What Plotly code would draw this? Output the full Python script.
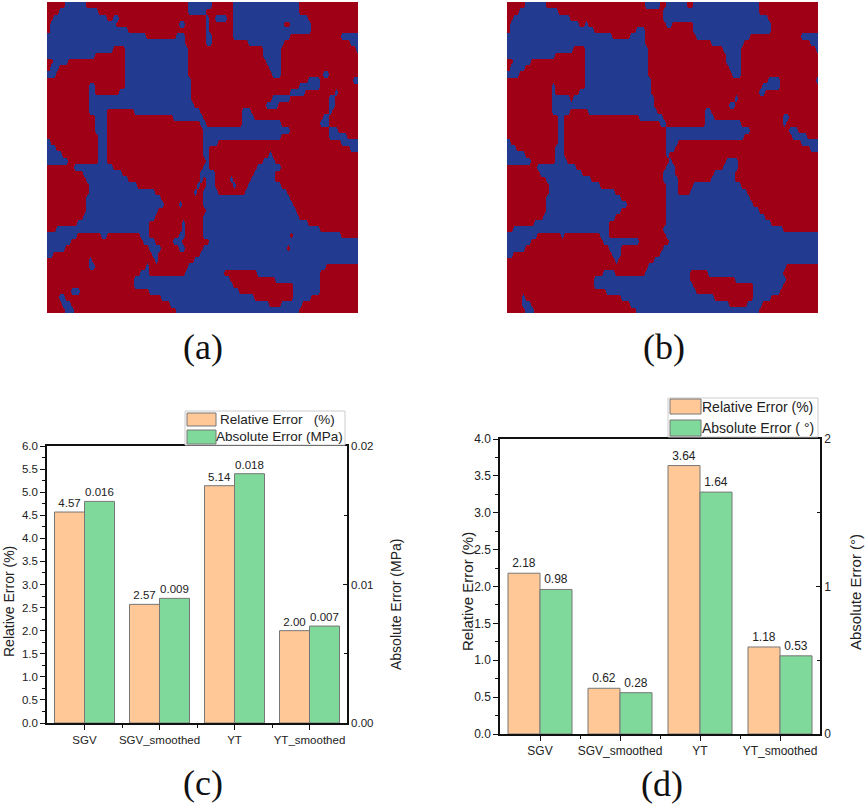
import plotly.graph_objects as go

W, H = 865, 805

# ---- data ----
categories = ["SGV", "SGV_smoothed", "YT", "YT_smoothed"]
rel_c = [4.57, 2.57, 5.14, 2.00]
abs_c = [0.016, 0.009, 0.018, 0.007]
rel_d = [2.18, 0.62, 3.64, 1.18]
abs_d = [0.98, 0.28, 1.64, 0.53]

# blue runs per image row (50 rows, top to bottom), position along the row
rows_a = [
 [(72,138),(440,515),(575,780)],
 [(55,170),(440,500),(575,780)],
 [(40,200),(220,240),(495,505),(520,560),(575,800)],
 [(30,225),(415,430),(495,505),(575,730),(750,810)],
 [(25,265),(495,510),(575,810)],
 [(20,315),(410,435),(500,515),(575,745),(900,955)],
 [(20,435),(500,515),(620,730),(925,955)],
 [(20,215),(250,440),(670,720),(945,955)],
 [(20,165),(250,440),(665,720)],
 [(40,85),(250,440),(680,720)],
 [(30,60),(250,445),(685,720)],
 [(20,50),(255,445),(695,720),(845,865)],
 [(145,150),(255,450),(800,835),(940,955)],
 [(145,160),(250,450),(780,835)],
 [(145,165),(235,450),(750,790),(880,890)],
 [(150,455),(695,745),(870,880)],
 [(150,460),(680,710),(870,880)],
 [(150,200),(280,475),(605,635),(865,875)],
 [(165,197),(400,490),(605,640),(850,870)],
 [(165,197),(475,500),(605,720),(840,865)],
 [(165,197),(490,750),(870,890)],
 [(170,197),(490,725),(870,920)],
 [(20,30),(170,197),(490,530),(905,955)],
 [(20,45),(170,197),(490,510),(930,955)],
 [(20,65),(170,197),(490,505),(685,695)],
 [(20,80),(170,200),(495,510),(670,705)],
 [(105,220),(490,510),(650,720)],
 [(130,245),(480,520),(640,700)],
 [(140,265),(475,490),(500,520),(570,580),(630,700)],
 [(150,290),(470,480),(495,520),(575,585),(620,720)],
 [(145,340),(460,470),(490,530),(610,740)],
 [(140,365),(490,750)],
 [(135,375),(415,425),(490,760)],
 [(135,355),(430,438),(495,770)],
 [(130,340),(430,438),(490,780)],
 [(110,330),(428,435),(490,800)],
 [(50,330),(425,432),(490,840)],
 [(20,110),(180,200),(295,330),(420,430),(490,750),(755,900)],
 [(20,90),(310,345),(400,425),(505,955)],
 [(20,70),(325,360),(415,430),(490,740),(750,955)],
 [(20,35),(335,355),(475,955)],
 [(145,155),(340,350),(460,955)],
 [(150,160),(320,330),(445,860)],
 [(170,175),(300,330),(435,555),(650,835)],
 [(285,565),(700,835)],
 [(285,575),(755,835)],
 [(90,115),(330,600),(755,835)],
 [(55,70),(360,640),(760,815)],
 [(65,90),(385,690),(725,785)],
 [(75,105),(405,780)],
]
rows_b = [
 [(72,135),(430,480),(495,560),(580,780)],
 [(55,170),(490,780)],
 [(40,205),(490,800)],
 [(30,240),(250,265),(500,515),(575,810)],
 [(25,285),(410,430),(580,810)],
 [(20,335),(385,435),(590,745),(900,958)],
 [(20,435),(630,730),(925,958)],
 [(20,215),(250,440),(670,720),(945,958)],
 [(20,160),(255,445),(680,720)],
 [(40,90),(255,445),(675,720)],
 [(30,70),(255,445),(685,720)],
 [(20,55),(255,445),(695,720)],
 [(255,450),(800,840),(945,958)],
 [(155,160),(250,450),(785,835)],
 [(155,165),(240,450),(780,790)],
 [(155,205),(215,460),(700,715)],
 [(155,465),(690,700)],
 [(155,205),(265,470),(610,635)],
 [(175,195),(420,490),(610,640),(850,865)],
 [(170,195),(475,500),(610,720),(850,860)],
 [(170,195),(495,745),(870,895)],
 [(170,195),(500,730),(875,920)],
 [(20,30),(170,195),(495,535),(905,958)],
 [(20,50),(165,195),(500,520),(930,958)],
 [(20,70),(165,195),(500,505)],
 [(20,95),(160,200),(505,515),(680,710)],
 [(110,225),(495,520),(665,715)],
 [(120,245),(490,525),(645,705)],
 [(140,270),(485,530),(630,705)],
 [(150,300),(500,530),(580,720)],
 [(145,340),(495,535),(565,740)],
 [(140,365),(495,750)],
 [(140,380),(495,760)],
 [(135,360),(500,775)],
 [(130,340),(495,790)],
 [(105,325),(495,810)],
 [(40,325),(490,850)],
 [(20,110),(185,195),(300,330),(415,420),(500,958)],
 [(20,95),(310,420),(505,958)],
 [(20,75),(325,365),(490,958)],
 [(20,40),(335,360),(475,958)],
 [(345,355),(460,958)],
 [(445,860)],
 [(310,340),(435,570),(620,845)],
 [(285,570),(700,855)],
 [(285,575),(755,850)],
 [(320,590),(760,835)],
 [(65,75),(360,640),(760,810)],
 [(65,90),(385,690),(740,785)],
 [(75,105),(405,780)],
]

RED, BLUE = "#A00016", "#223A90"
ORANGE, GREEN = "#FFC896", "#7FD99A"
EDGE = "#777777"
FONT = "Liberation Sans"
INK = "#222222"


def xd(a, b):
    return [a / W, b / W]


def yd(top, bottom):
    return [1 - bottom / H, 1 - top / H]


def grid(rows):
    cols = [24.5 + 9 * i for i in range(104)]
    z = [[1 if any(a <= c < b for a, b in r) else 0 for c in cols] for r in rows]
    ys = [5 + 18.66 * (k + 0.5) for k in range(len(rows))]
    return cols, ys, z


fig = go.Figure()

for rows, xa, ya in ((rows_a, "x", "y"), (rows_b, "x2", "y2")):
    cols, ys, z = grid(rows)
    fig.add_trace(go.Heatmap(x=cols, y=ys, z=z, xaxis=xa, yaxis=ya, zmin=0, zmax=1,
                             colorscale=[[0, RED], [0.5, RED], [0.5, BLUE], [1, BLUE]],
                             showscale=False, hoverinfo="skip", zsmooth="best"))


def bars(rel, abs_, xa, ya1, ya2, fmt2, size, name2):
    xs = list(range(len(categories)))
    common = dict(width=0.4, textposition="outside", cliponaxis=False, showlegend=False,
                  textfont=dict(family=FONT, size=size, color=INK), textangle=0)
    fig.add_trace(go.Bar(x=xs, y=rel, offset=-0.4, xaxis=xa, yaxis=ya1, name="Relative Error (%)",
                         marker=dict(color=ORANGE, line=dict(color=EDGE, width=1)),
                         texttemplate="%{y:.2f}", **common))
    fig.add_trace(go.Bar(x=xs, y=abs_, offset=0, xaxis=xa, yaxis=ya2, name=name2,
                         marker=dict(color=GREEN, line=dict(color=EDGE, width=1)),
                         texttemplate="%{y:" + fmt2 + "}", **common))


bars(rel_c, abs_c, "x3", "y3", "y4", ".3f", 11.5, "Absolute Error (MPa)")
bars(rel_d, abs_d, "x4", "y5", "y6", ".2f", 12, "Absolute Error (°)")

hidden = dict(visible=False, showgrid=False, zeroline=False)


def xcat(dom, anchor, size):
    return dict(domain=dom, anchor=anchor, range=[-0.5, 3.5], tickmode="array",
                tickvals=list(range(4)), ticktext=categories, ticks="outside", ticklen=5,
                tickwidth=1, tickcolor="#111", showline=True, linecolor="#111", linewidth=1.5,
                mirror=True, showgrid=False, zeroline=False,
                tickfont=dict(family=FONT, size=size, color=INK),
                minor=dict(tickmode="array", tickvals=[0.5, 1.5, 2.5], ticks="outside", ticklen=3,
                           tickcolor="#111", showgrid=False))


def yleft(dom, anchor, top, size):
    return dict(domain=dom, anchor=anchor, range=[0, top], dtick=0.5, tick0=0, tickformat=".1f",
                ticks="outside", ticklen=5, tickwidth=1, tickcolor="#111", showline=True,
                linecolor="#111", linewidth=1.5, showgrid=False, zeroline=False,
                tickfont=dict(family=FONT, size=size, color=INK),
                minor=dict(dtick=0.25, tick0=0, ticks="outside", ticklen=3, tickcolor="#111", showgrid=False))


def yright(anchor, over, top, dt, mdt, fmt, size):
    d = dict(anchor=anchor, overlaying=over, side="right", range=[0, top], dtick=dt, tick0=0,
             tickformat=fmt, ticks="inside", ticklen=4, tickwidth=1, tickcolor="#111", showline=True,
             linecolor="#111", linewidth=1.5, showgrid=False, zeroline=False,
             tickfont=dict(family=FONT, size=size, color=INK),
             minor=dict(dtick=mdt, tick0=0, ticks="inside", ticklen=3, tickcolor="#111", showgrid=False))
    return d


fig.update_layout(
    width=W, height=H, margin=dict(l=0, r=0, t=0, b=0, pad=0, autoexpand=False), autosize=False,
    paper_bgcolor="white", plot_bgcolor="white", showlegend=False, barmode="overlay",
    xaxis=dict(domain=xd(47, 358), range=[20, 955], anchor="y", **hidden),
    yaxis=dict(domain=yd(2, 313), range=[938, 5], anchor="x", **hidden),
    xaxis2=dict(domain=xd(507, 819), range=[20, 958], anchor="y2", **hidden),
    yaxis2=dict(domain=yd(2, 313), range=[938, 5], anchor="x2", **hidden),
    xaxis3=xcat(xd(47, 347), "y3", 11.5),
    yaxis3=yleft(yd(446, 723), "x3", 6, 11.5),
    yaxis4=yright("x3", "y3", 0.02, 0.01, 0.005, ".2f", 11.5),
    xaxis4=xcat(xd(500, 820), "y5", 12),
    yaxis5=yleft(yd(439, 734), "x4", 4, 12),
    yaxis6=yright("x4", "y5", 2, 1, 0.5, "d", 12),
)
fig.layout.yaxis4.domain = yd(446, 723)
fig.layout.yaxis6.domain = yd(439, 734)


def note(x, y, text, size, family=FONT, angle=0, anchor="center", color=INK):
    fig.add_annotation(x=x / W, y=1 - y / H, xref="paper", yref="paper", text=text, showarrow=False,
                       textangle=angle, xanchor=anchor, yanchor="middle",
                       font=dict(family=family, size=size, color=color))


for x, y, t in ((203, 347, "(a)"), (664, 347, "(b)"), (203, 783, "(c)"), (662, 784, "(d)")):
    note(x, y, t, 36, family="Liberation Serif", color="#111")

note(9, 602, "Relative Error (%)", 14, angle=-90)
note(396, 605, "Absolute Error (MPa)", 14, angle=-90)
note(467, 592, "Relative Error (%)", 15, angle=-90)
note(855, 592, "Absolute Error (°)", 15, angle=-90)


def legend_box(x0, y0, x1, y1, items):
    fig.add_shape(type="rect", xref="paper", yref="paper", x0=x0 / W, x1=x1 / W, y0=1 - y0 / H, y1=1 - y1 / H,
                  line=dict(color="#CCCCCC", width=1), fillcolor="white")
    for sx0, sy0, sx1, sy1, col, tx, text, size in items:
        fig.add_shape(type="rect", xref="paper", yref="paper", x0=sx0 / W, x1=sx1 / W,
                      y0=1 - sy0 / H, y1=1 - sy1 / H, line=dict(color=EDGE, width=1), fillcolor=col)
        note(tx, (sy0 + sy1) / 2, text, size, anchor="left")


legend_box(185, 411, 345, 445, [
    (187, 413, 216, 426, ORANGE, 218, "Relative Error&#160;&#160;&#160;(%)", 13.5),
    (187, 430, 216, 444, GREEN, 214, "Absolute Error (MPa)", 13.5),
])
legend_box(668, 398, 818, 437, [
    (670, 399, 701, 414, ORANGE, 700, "Relative Error (%)", 14),
    (670, 420, 701, 436, GREEN, 700, "Absolute Error (&#160;°)", 14),
])

fig.write_html("out.html", config={"displayModeBar": False},
               post_script="document.body.style.margin='0';document.body.style.overflow='hidden';")
